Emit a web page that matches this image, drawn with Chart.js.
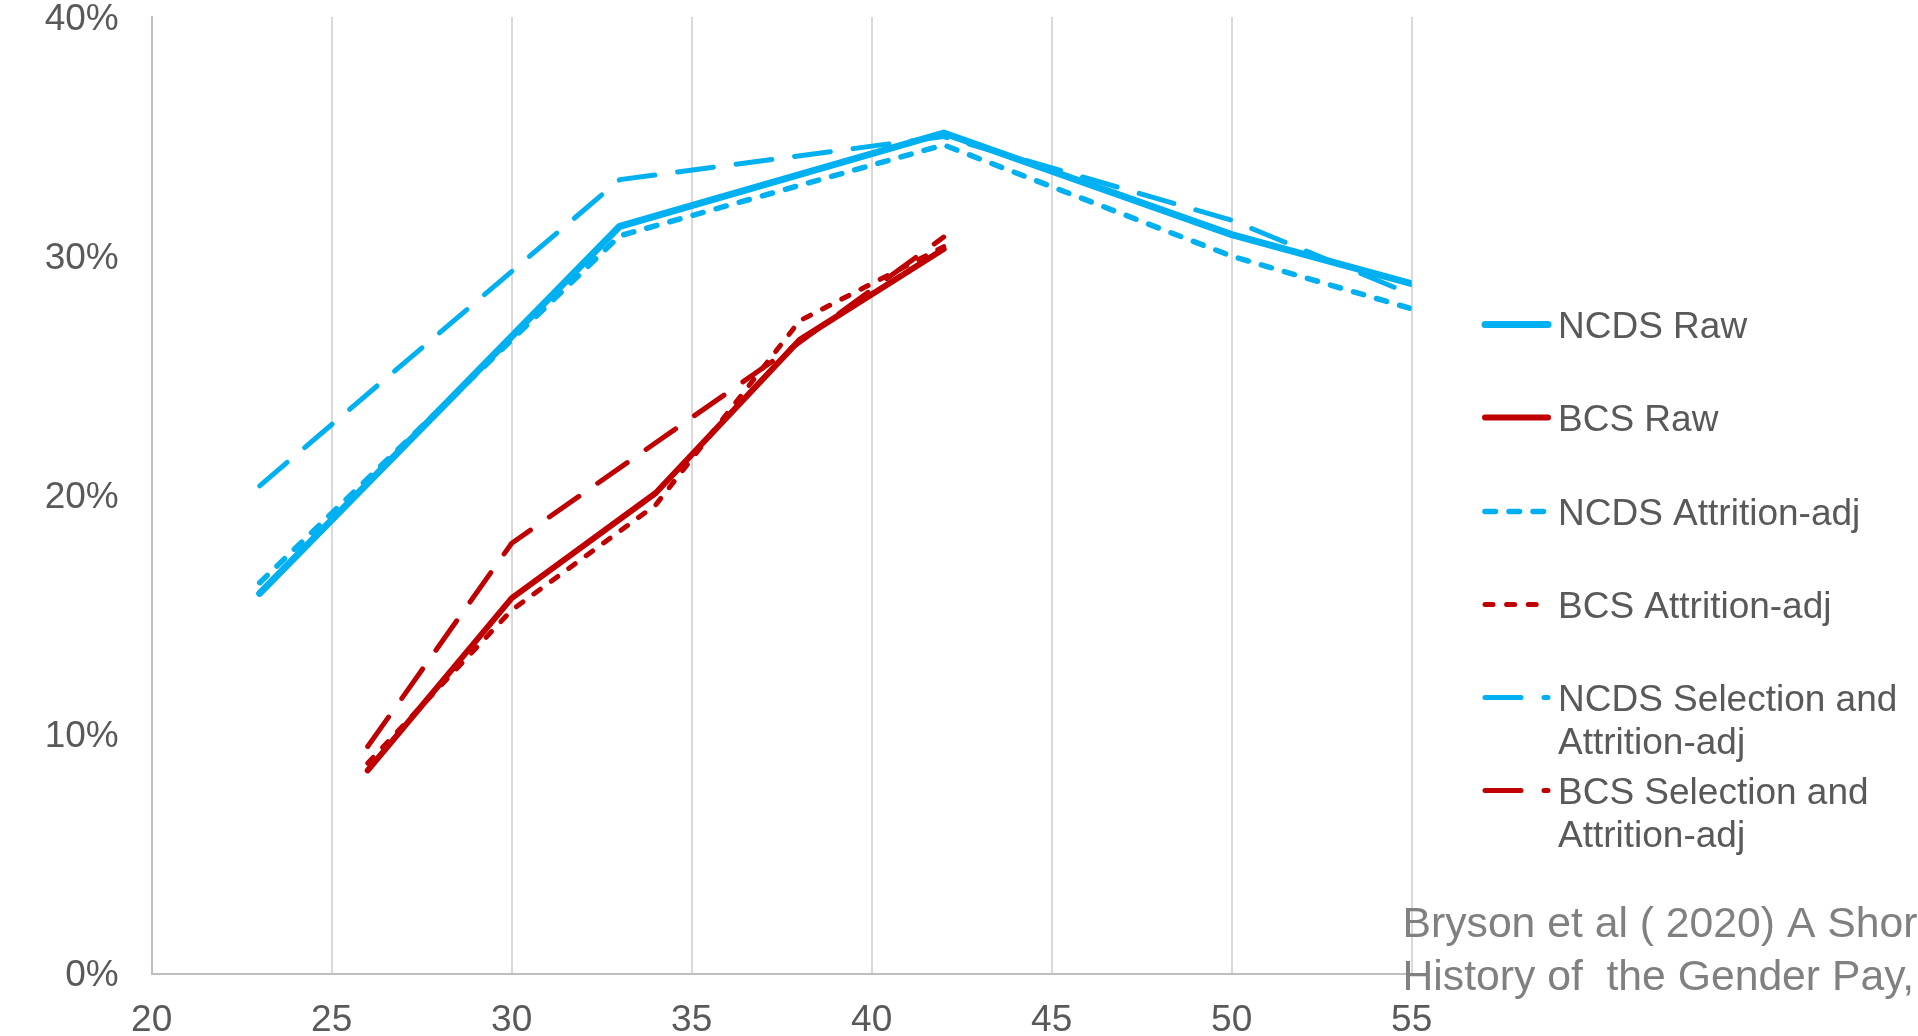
<!DOCTYPE html>
<html>
<head>
<meta charset="utf-8">
<title>Gender pay gap by age, NCDS and BCS cohorts</title>
<script src="https://cdn.jsdelivr.net/npm/chart.js@4.4.1/dist/chart.umd.min.js"></script>
<style>
  html, body { margin: 0; padding: 0; background: #ffffff; overflow: hidden; }
  #wrap { position: relative; width: 1918px; height: 1036px; }
</style>
</head>
<body>
<div id="wrap"><canvas id="gap" width="1918" height="1036"></canvas></div>
<script>
// Ages at each survey sweep
const ncdsAges = [23, 33, 42, 50, 55];
const bcsAges = [26, 30, 34, 38, 42];

// Gender pay gap (%) per sweep
const ncdsRaw = [15.9, 31.25, 35.15, 30.9, 28.85];
const bcsRaw = [8.5, 15.7, 20.1, 26.5, 30.3];
const ncdsAttrition = [16.35, 30.85, 34.65, 30.0, 27.8];
const bcsAttrition = [8.8, 15.2, 19.6, 27.3, 30.4];
const ncdsSelection = [20.4, 33.2, 35.0, 31.5, 28.4];
const bcsSelection = [9.5, 18.0, 22.2, 26.4, 30.8];

const seriesNames = [
  ['NCDS Raw'],
  ['BCS Raw'],
  ['NCDS Attrition-adj'],
  ['BCS Attrition-adj'],
  ['NCDS Selection and', 'Attrition-adj'],
  ['BCS Selection and', 'Attrition-adj']
];

const xTicks = [20, 25, 30, 35, 40, 45, 50, 55];
const yTicks = [0, 10, 20, 30, 40];

const sourceNote = ['Bryson et al ( 2020) A Shor', 'History of  the Gender Pay,'];

const BLUE = '#00b0f0';
const RED = '#c00000';
const FONT = "'Liberation Sans', Arial, sans-serif";

const pts = (ages, vals) => ages.map((a, i) => ({ x: a, y: vals[i] }));

const styles = [
  { color: BLUE, width: 7, dash: [] },
  { color: RED, width: 6, dash: [] },
  { color: BLUE, width: 5.5, dash: [10.5, 13.5] },
  { color: RED, width: 5, dash: [8, 13.6] },
  { color: BLUE, width: 5, dash: [36, 23] },
  { color: RED, width: 5, dash: [36, 23] }
];

const seriesData = [
  pts(ncdsAges, ncdsRaw),
  pts(bcsAges, bcsRaw),
  pts(ncdsAges, ncdsAttrition),
  pts(bcsAges, bcsAttrition),
  pts(ncdsAges, ncdsSelection),
  pts(bcsAges, bcsSelection)
];

const datasets = seriesData.map((d, i) => ({
  label: seriesNames[i].join(' '),
  data: d,
  borderColor: styles[i].color,
  backgroundColor: styles[i].color,
  borderWidth: styles[i].width,
  borderDash: styles[i].dash,
  borderCapStyle: 'round',
  borderJoinStyle: 'round',
  pointRadius: 0,
  pointHoverRadius: 0,
  tension: 0,
  fill: false,
  order: seriesData.length - 1 - i
}));

// Legend at the right with wrapped labels, plus the source note
const sideLegend = {
  id: 'sideLegend',
  afterDraw(chart) {
    const ctx = chart.ctx;
    const rows = [327.5, 420.5, 514.5, 607.5, 700.5, 793.5];
    const x0 = 1485, x1 = 1548, tx = 1558, lineGap = 43;
    ctx.save();
    chart.data.datasets.forEach((ds, i) => {
      const y = rows[i];
      ctx.beginPath();
      ctx.strokeStyle = ds.borderColor;
      ctx.lineWidth = ds.borderWidth;
      ctx.lineCap = 'round';
      ctx.setLineDash(ds.borderDash || []);
      ctx.moveTo(x0, y - 3);
      ctx.lineTo(x1, y - 3);
      ctx.stroke();
      ctx.setLineDash([]);
      ctx.fillStyle = '#595959';
      ctx.font = '37px ' + FONT;
      ctx.textAlign = 'left';
      ctx.textBaseline = 'middle';
      seriesNames[i].forEach((t, k) => ctx.fillText(t, tx, y + k * lineGap));
    });
    ctx.fillStyle = '#808080';
    ctx.font = '42.7px ' + FONT;
    ctx.textAlign = 'left';
    ctx.textBaseline = 'middle';
    ctx.fillText(sourceNote[0], 1402.5, 925);
    ctx.fillText(sourceNote[1], 1402.5, 978);
    ctx.restore();
  }
};

new Chart(document.getElementById('gap'), {
  type: 'line',
  data: { datasets },
  plugins: [sideLegend],
  options: {
    responsive: false,
    animation: false,
    devicePixelRatio: 1,
    layout: { padding: { left: 0, top: 17, right: 506.3, bottom: 0 } },
    plugins: { legend: { display: false }, tooltip: { enabled: false } },
    scales: {
      x: {
        type: 'linear',
        min: 20,
        max: 55,
        afterBuildTicks: s => { s.ticks = xTicks.map(v => ({ value: v })); },
        afterFit: s => { s.height = 1036 - 973.7; s.paddingLeft = 0; s.paddingRight = 0; },
        ticks: {
          color: '#595959',
          font: { family: FONT, size: 37 },
          padding: 24.5,
          maxRotation: 0,
          autoSkip: false
        },
        grid: {
          color: c => (c.index === 0 ? 'rgba(0,0,0,0)' : '#d9d9d9'),
          lineWidth: 2,
          drawTicks: false
        },
        border: { display: true, color: '#bfbfbf', width: 2 }
      },
      y: {
        type: 'linear',
        min: 0,
        max: 40,
        afterBuildTicks: s => { s.ticks = yTicks.map(v => ({ value: v })); },
        afterFit: s => { s.width = 151.7; s.paddingTop = 0; s.paddingBottom = 0; },
        ticks: {
          color: '#595959',
          font: { family: FONT, size: 37 },
          padding: 33,
          labelOffset: 2.5,
          callback: v => v + '%'
        },
        grid: { display: false, drawTicks: false },
        border: { display: true, color: '#bfbfbf', width: 2 }
      }
    }
  }
});
</script>
</body>
</html>
